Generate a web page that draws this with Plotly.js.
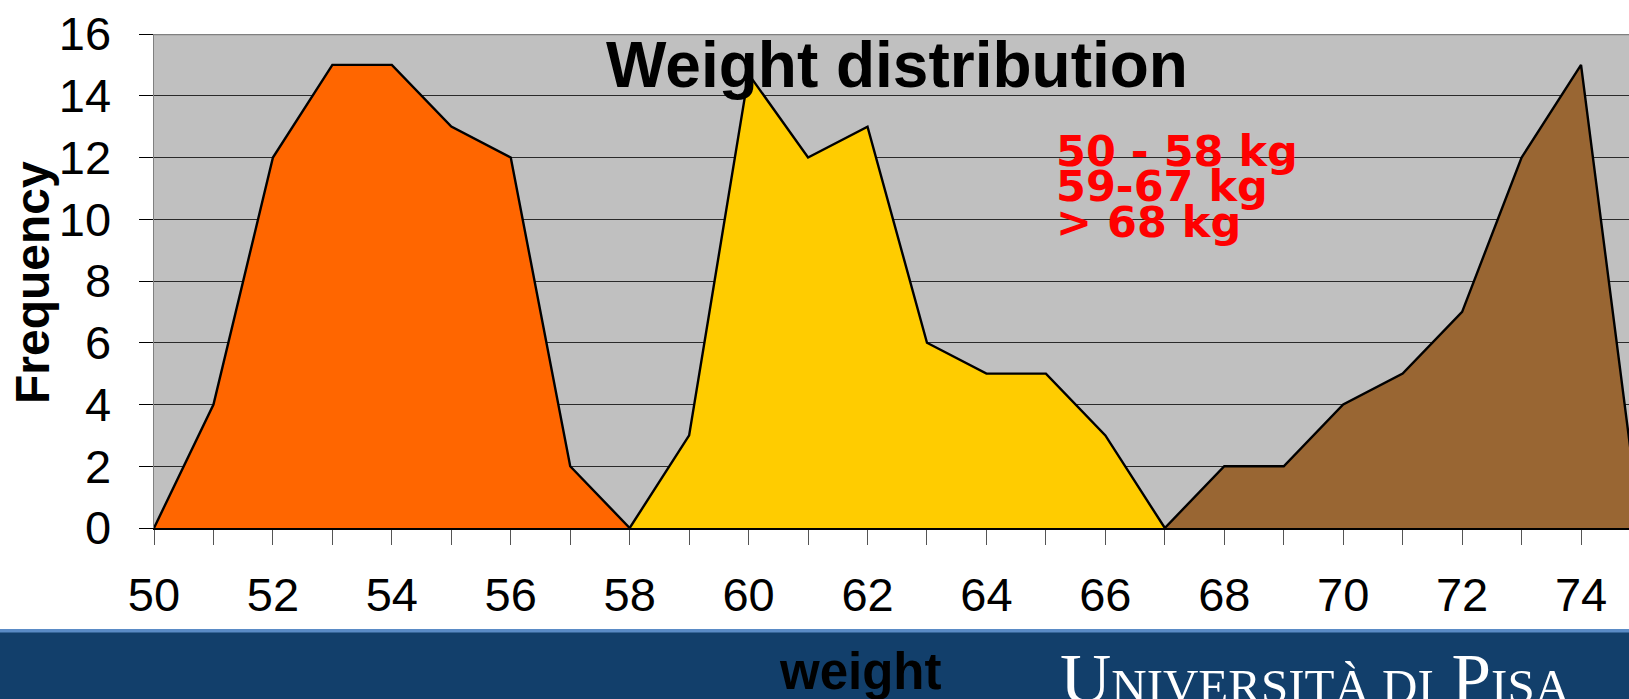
<!DOCTYPE html>
<html>
<head>
<meta charset="utf-8">
<script src="https://cdn.plot.ly/plotly-3.0.1.min.js"></script>
<style>html,body{margin:0;padding:0;background:#fff;}#chart{width:1629px;height:699px;}</style>
</head>
<body>
<div id="chart"></div>
<script>
// Data
const weightsLight = [50, 51, 52, 53, 54, 55, 56, 57, 58];
const freqLight    = [0, 4, 12, 15, 15, 13, 12, 2, 0];
const weightsMid   = [58, 59, 60, 61, 62, 63, 64, 65, 66, 67];
const freqMid      = [0, 3, 14.7, 12, 13, 6, 5, 5, 3, 0];
const weightsHeavy = [67, 68, 69, 70, 71, 72, 73, 74, 75];
const freqHeavy    = [0, 2, 2, 4, 5, 7, 12, 15, 0];
const seriesNames  = ["50 - 58 kg", "59-67 kg", "> 68 kg"];
const xTickVals    = [50, 52, 54, 56, 58, 60, 62, 64, 66, 68, 70, 72, 74];
const yTickVals    = [0, 2, 4, 6, 8, 10, 12, 14, 16];

const L = 154, T = 34, B = 171, W = 1629, H = 699;
const PW = W - L, PH = H - T - B;
const px = x => (x - L) / PW;
const py = y => (H - B - y) / PH;

function area(x, y, name, color) {
  return {
    type: 'scatter', mode: 'lines', x: x, y: y, name: name,
    fill: 'tozeroy', fillcolor: color,
    line: {color: '#000000', width: 2.4},
    hoverinfo: 'x+y'
  };
}

const data = [
  area(weightsLight, freqLight, seriesNames[0], '#FF6600'),
  area(weightsMid, freqMid, seriesNames[1], '#FFCC00'),
  area(weightsHeavy, freqHeavy, seriesNames[2], '#996633')
];

const legendFont = {family: 'DejaVu Sans', size: 43, color: '#FF0000', weight: 'bold'};

const layout = {
  width: W, height: H,
  margin: {l: L, r: 0, t: T, b: B, pad: 0},
  paper_bgcolor: '#FFFFFF',
  plot_bgcolor: '#C0C0C0',
  showlegend: false,
  title: {
    text: '<b>Weight distribution</b>',
    font: {family: 'Liberation Sans, Arial, sans-serif', size: 64, color: '#000'},
    x: 897 / W, xref: 'container', xanchor: 'center',
    y: 1 - 65 / H, yref: 'container', yanchor: 'middle'
  },
  xaxis: {
    range: [50, 50 + PW / 59.46],
    tickvals: xTickVals,
    ticks: 'outside', ticklen: 15, tickcolor: '#555555', tickwidth: 1,
    minor: {dtick: 1, ticks: 'outside', ticklen: 15, tickcolor: '#555555', tickwidth: 1, showgrid: false},
    tickfont: {family: 'Liberation Sans, Arial, sans-serif', size: 47, color: '#000'},
    ticklabelstandoff: 10,
    showgrid: false, zeroline: false,
    showline: true, linecolor: '#000000', linewidth: 2,
    fixedrange: true
  },
  yaxis: {
    range: [0, 16],
    tickvals: yTickVals,
    ticks: 'outside', ticklen: 14, tickcolor: '#000000', tickwidth: 1,
    tickfont: {family: 'Liberation Sans, Arial, sans-serif', size: 47, color: '#000'},
    ticklabelstandoff: 18,
    showgrid: true, gridcolor: '#2a2a2a', gridwidth: 1,
    zeroline: false,
    showline: true, linecolor: '#808080', linewidth: 1.5,
    fixedrange: true
  },
  shapes: [
    {type: 'rect', xref: 'paper', yref: 'paper', x0: px(0), x1: 1.02, y0: py(699), y1: py(629),
     fillcolor: '#123F6B', line: {width: 0}, layer: 'below'},
    {type: 'rect', xref: 'paper', yref: 'paper', x0: px(0), x1: 1.02, y0: py(632.5), y1: py(629),
     fillcolor: '#5A8BC6', line: {width: 0}, layer: 'below'},
    {type: 'line', xref: 'paper', yref: 'y', x0: 0, x1: 1, y0: 16, y1: 16,
     line: {color: '#808080', width: 2.5}, layer: 'above'}
  ],
  annotations: [
    {text: '<b>Frequency</b>', xref: 'paper', yref: 'paper', x: px(32), y: py(283),
     textangle: -90, showarrow: false, xanchor: 'center', yanchor: 'middle',
     font: {family: 'Liberation Sans, Arial, sans-serif', size: 48, color: '#000'}},
    {text: '<b>weight</b>', xref: 'paper', yref: 'paper', x: px(860), y: py(671),
     showarrow: false, xanchor: 'center', yanchor: 'middle',
     font: {family: 'Liberation Sans, Arial, sans-serif', size: 51, color: '#000'}},
    {text: seriesNames[0], xref: 'paper', yref: 'paper', x: px(1054), y: py(151),
     showarrow: false, xanchor: 'left', yanchor: 'middle', font: legendFont},
    {text: seriesNames[1], xref: 'paper', yref: 'paper', x: px(1054), y: py(186),
     showarrow: false, xanchor: 'left', yanchor: 'middle', font: legendFont},
    {text: seriesNames[2], xref: 'paper', yref: 'paper', x: px(1054), y: py(222),
     showarrow: false, xanchor: 'left', yanchor: 'middle', font: legendFont},
    {text: 'U<span style="font-size:49px">NIVERSITÀ DI</span> P<span style="font-size:49px">ISA</span>',
     xref: 'paper', yref: 'paper', x: px(1315), y: py(679),
     showarrow: false, xanchor: 'center', yanchor: 'middle',
     font: {family: 'Liberation Serif, DejaVu Serif, serif', size: 71, color: '#FFFFFF'}}
  ]
};

Plotly.newPlot('chart', data, layout, {displayModeBar: false, staticPlot: true});
</script>
</body>
</html>
